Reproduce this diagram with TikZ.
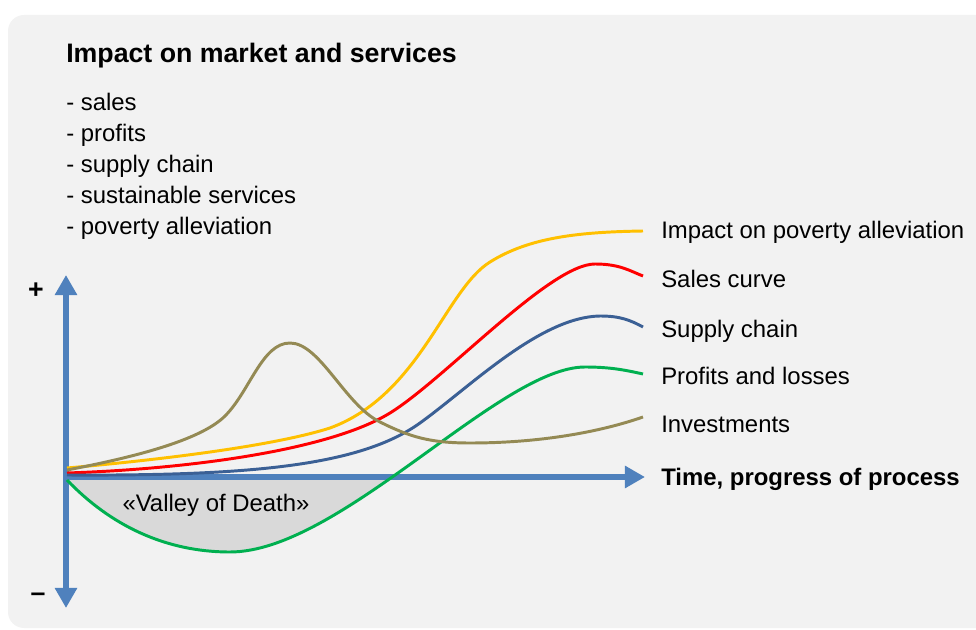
\documentclass[tikz,border=0pt]{standalone}
\usepackage{fontspec}
\setmainfont{Liberation Sans}
\usetikzlibrary{positioning, arrows.meta}

\definecolor{panelgray}{HTML}{F2F2F2}
\definecolor{valleygray}{HTML}{D9D9D9}
\definecolor{axisblue}{HTML}{4F81BD}
\definecolor{povyellow}{HTML}{FFC000}
\definecolor{salesred}{HTML}{FF0000}
\definecolor{supplyblue}{HTML}{3B6095}
\definecolor{profitgreen}{HTML}{00B050}
\definecolor{investolive}{HTML}{948A54}

\begin{document}
\begin{tikzpicture}[x=0.025cm, y=-0.025cm]
        % Define styles
        \tikzstyle{axis} = [line width=4.3pt, draw=axisblue]
        \tikzstyle{curve} = [line width=2.1pt]
        \tikzstyle{lbl} = [anchor=base west, inner sep=0pt, font=\fontsize{17}{20}\selectfont]
        \tikzstyle{sign} = [inner sep=0pt, font=\fontsize{19}{20}\selectfont\bfseries]

        \useasboundingbox (0,0) rectangle (976,630);
        % Background panel
        \begin{scope}
            \clip (0,0) rectangle (976,630);
            \fill[panelgray, rounded corners=0.4cm] (8,15) rectangle (1010,628);
        \end{scope}

        % Title and list
        \node[lbl, font=\fontsize{19}{23}\selectfont\bfseries] (title) at (66,63) {Impact on market and services};
        \foreach \txt [count=\i] in {sales, profits, supply chain, sustainable services, poverty alleviation}
            \node[lbl] (item\i) at (66,80+31*\i) {- \txt};

        % Valley of death
        \begin{scope}
            \clip (66,477) rectangle (643,640);
            \fill[valleygray] (67,480) .. controls (110,525) and (165,552) .. (230,552)
                .. controls (340,552) and (500,367) .. (585,367) -- (585,300) -- (66,300) -- cycle;
        \end{scope}
        \node[font=\fontsize{17}{20}\selectfont] (valley) at (216,505) {«Valley of Death»};

        % Axes
        \coordinate (origin) at (66,477);
        \coordinate (ytop) at (66,275);
        \coordinate (ybot) at (66,608);
        \coordinate (xend) at (645,477);
        \draw[axis, {Triangle[width=0.53cm, length=0.5cm]}-{Triangle[width=0.53cm, length=0.5cm]}] (ybot) -- (ytop);
        \draw[axis, -{Triangle[width=0.53cm, length=0.5cm]}] (origin) -- (xend);
        \node[sign] (plus) at (36,291) {+};
        \node[sign] (minus) at (38,597) {--};

        % Curves
        \draw[curve, povyellow] (67,468) .. controls (180,458) and (280,444) .. (330,428)
            .. controls (420,395) and (445,290) .. (490,262)
            .. controls (530,237) and (580,232) .. (643,231);
        \draw[curve, salesred] (67,473) .. controls (190,469) and (330,450) .. (390,413)
            .. controls (445,379) and (550,264) .. (595,264)
            .. controls (620,264) and (630,271) .. (643,276);
        \draw[curve, supplyblue] (67,475) .. controls (250,476) and (360,466) .. (420,423)
            .. controls (470,387) and (540,317) .. (600,316)
            .. controls (620,316) and (630,320) .. (643,327);
        \draw[curve, profitgreen] (67,480) .. controls (110,525) and (165,552) .. (230,552)
            .. controls (340,552) and (500,367) .. (585,367)
            .. controls (610,367) and (625,370) .. (643,374);
        \draw[curve, investolive] (67,470) .. controls (130,458) and (200,441) .. (225,416)
            .. controls (250,391) and (262,343) .. (290,343)
            .. controls (320,343) and (345,405) .. (380,422)
            .. controls (410,437) and (430,443) .. (470,443)
            .. controls (540,443) and (600,432) .. (643,417);

        % Labels
        \node[lbl] (lpov) at (661,239) {Impact on poverty alleviation};
        \node[lbl] (lsales) at (661,288) {Sales curve};
        \node[lbl] (lsupply) at (661,337) {Supply chain};
        \node[lbl] (lprofit) at (661,385) {Profits and losses};
        \node[lbl] (linvest) at (661,433) {Investments};
        \node[lbl, font=\fontsize{17}{20}\selectfont\bfseries] (ltime) at (661,485) {Time, progress of process};
    \end{tikzpicture}
\end{document}
